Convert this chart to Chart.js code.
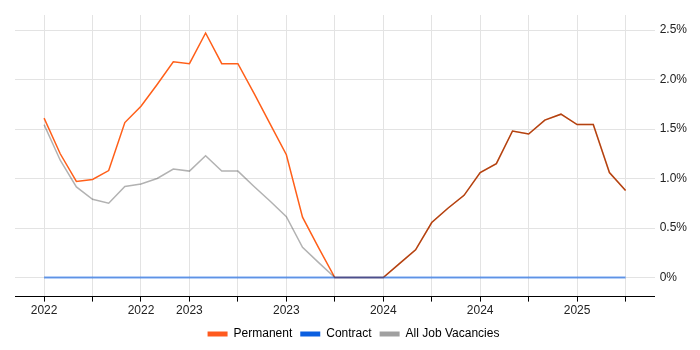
<!DOCTYPE html>
<html>
<head>
<meta charset="utf-8">
<script src="https://cdn.jsdelivr.net/npm/chart.js@4"></script>
<style>
  html, body { margin: 0; padding: 0; background: #fff; }
  #wrap { width: 700px; height: 350px; }
</style>
</head>
<body>
<div id="wrap"><canvas id="trendChart"></canvas></div>
<script>
// --- DATA (monthly points, quarterly ticks) ---
const tickLabels = ['2022', '', '2022', '2023', '', '2023', '', '2024', '', '2024', '', '2025', ''];
const permanent = [1.61, 1.25, 0.97, 0.99, 1.08, 1.565, 1.73, 1.95, 2.18, 2.16, 2.47, 2.16, 2.16,
                   1.86, 1.55, 1.24, 0.61, 0.30, 0, 0, 0, 0, 0.14, 0.28, 0.555, 0.70, 0.83,
                   1.06, 1.15, 1.48, 1.45, 1.59, 1.65, 1.545, 1.545, 1.06, 0.88];
const contract = [0, 0, 0, 0, 0, 0, 0, 0, 0, 0, 0, 0, 0, 0, 0, 0, 0, 0, 0,
                  0, 0, 0, 0, 0, 0, 0, 0, 0, 0, 0, 0, 0, 0, 0, 0, 0, 0];
const allJobs = [1.545, 1.185, 0.915, 0.79, 0.75, 0.92, 0.945, 1.00, 1.095, 1.075, 1.23, 1.075, 1.075,
                 0.92, 0.77, 0.615, 0.305, 0.15, 0, 0, 0, 0, 0.14, 0.28, 0.555, 0.70, 0.83,
                 1.06, 1.15, 1.48, 1.45, 1.59, 1.65, 1.545, 1.545, 1.06, 0.88];
const yTicks = [0, 0.5, 1.0, 1.5, 2.0, 2.5];

const toPoints = arr => arr.map((v, i) => ({ x: i, y: v }));

const legendColors = ['#ff5a1e', '#0b5fe0', '#a0a0a0'];

new Chart(document.getElementById('trendChart'), {
    type: 'line',
    data: {
        datasets: [
            { label: 'Permanent', data: toPoints(permanent), borderColor: 'rgb(255,95,25)', borderWidth: 1.5, order: 2 },
            { label: 'Contract', data: toPoints(contract), borderColor: 'rgba(0,90,230,0.58)', borderWidth: 2, order: 0 },
            // translucent dark line: shows grey on white, darkens the orange where the two overlap
            { label: 'All Job Vacancies', data: toPoints(allJobs), borderColor: 'rgba(0,0,0,0.3)', borderWidth: 1.5, order: 1 }
        ]
    },
    options: {
        responsive: true,
        maintainAspectRatio: false,
        animation: false,
        elements: { point: { radius: 0 }, line: { tension: 0 } },
        layout: { padding: { left: 15, right: 8, top: 15, bottom: 0 } },
        plugins: {
            tooltip: { enabled: false },
            legend: {
                position: 'bottom',
                labels: {
                    boxWidth: 20, boxHeight: 5, padding: 8,
                    color: '#222',
                    font: { family: 'Liberation Sans, Arial, sans-serif', size: 12 },
                    generateLabels: chart => chart.data.datasets.map((ds, i) => ({
                        text: ds.label, fillStyle: legendColors[i], strokeStyle: legendColors[i],
                        lineWidth: 0, datasetIndex: i, hidden: false
                    }))
                }
            }
        },
        scales: {
            x: {
                type: 'linear',
                min: -1.8, max: 37.8,
                afterBuildTicks: axis => { axis.ticks = tickLabels.map((t, i) => ({ value: i * 3 })); },
                ticks: {
                    autoSkip: false, maxRotation: 0, color: '#222', padding: 2,
                    font: { family: 'Liberation Sans, Arial, sans-serif', size: 12 },
                    callback: v => tickLabels[Math.round(v / 3)]
                },
                grid: { color: '#e3e3e3', tickColor: '#000', tickLength: 5 },
                border: { color: '#000', width: 1 }
            },
            y: {
                position: 'right',
                min: -0.193, max: 2.652,
                afterBuildTicks: axis => { axis.ticks = yTicks.map(v => ({ value: v })); },
                ticks: {
                    color: '#222', padding: 5,
                    font: { family: 'Liberation Sans, Arial, sans-serif', size: 12 },
                    callback: v => v === 0 ? '0%' : v.toFixed(1) + '%'
                },
                grid: { color: '#e3e3e3', drawTicks: false },
                border: { display: false }
            }
        }
    }
});
</script>
</body>
</html>
